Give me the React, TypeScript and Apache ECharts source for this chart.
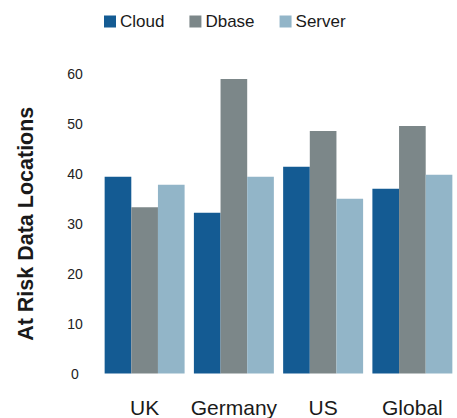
import React, { useEffect, useRef } from "react";
import * as echarts from "echarts";

const categories = ["UK", "Germany", "US", "Global"];
const seriesNames = ["Cloud", "Dbase", "Server"];
const cloudValues = [39.4, 32.2, 41.4, 37.0];
const dbaseValues = [33.3, 59.0, 48.6, 49.6];
const serverValues = [37.8, 39.4, 35.0, 39.8];
const seriesColors = ["#145b93", "#7c8789", "#92b5c8"];
const yTitle = "At Risk Data Locations";

const FONT = "'Liberation Sans', Arial, Helvetica, sans-serif";

export default function App() {
  const ref = useRef<HTMLDivElement>(null);
  useEffect(() => {
    if (!ref.current) return;
    const chart = echarts.init(ref.current, undefined, { renderer: "svg" });
    const values = [cloudValues, dbaseValues, serverValues];
    chart.setOption({
      animation: false,
      backgroundColor: "#ffffff",
      textStyle: { fontFamily: FONT },
      legend: {
        left: 99,
        top: 8,
        itemWidth: 12,
        itemHeight: 12,
        itemGap: 25,
        icon: "rect",
        data: seriesNames,
        textStyle: { fontSize: 17, color: "#1a1a1a", fontFamily: FONT, padding: [0, 0, 0, -1] },
      },
      grid: { left: 100, right: 0, top: 74, bottom: 44.5, containLabel: false },
      xAxis: {
        type: "category",
        data: categories,
        axisLine: { show: false },
        axisTick: { show: false },
        axisLabel: { fontSize: 21, color: "#1a1a1a", margin: 23, interval: 0, fontFamily: FONT },
      },
      yAxis: {
        type: "value",
        min: 0,
        max: 60,
        interval: 10,
        name: yTitle,
        nameLocation: "middle",
        nameGap: 63,
        nameTextStyle: { fontSize: 21.5, fontWeight: "bold", color: "#1a1a1a", fontFamily: FONT },
        splitLine: { show: false },
        axisLine: { show: false },
        axisTick: { show: false },
        axisLabel: { fontSize: 14, color: "#222222", margin: 25, align: "center", fontFamily: FONT },
      },
      series: seriesNames.map((name, i) => ({
        name,
        type: "bar",
        data: values[i],
        barGap: "0%",
        barCategoryGap: "10.4%",
        itemStyle: { color: seriesColors[i] },
      })),
    });
    return () => chart.dispose();
  }, []);
  return (
    <div
      ref={ref}
      style={{ position: "fixed", left: 0, top: 0, width: 457, height: 418 }}
    />
  );
}
